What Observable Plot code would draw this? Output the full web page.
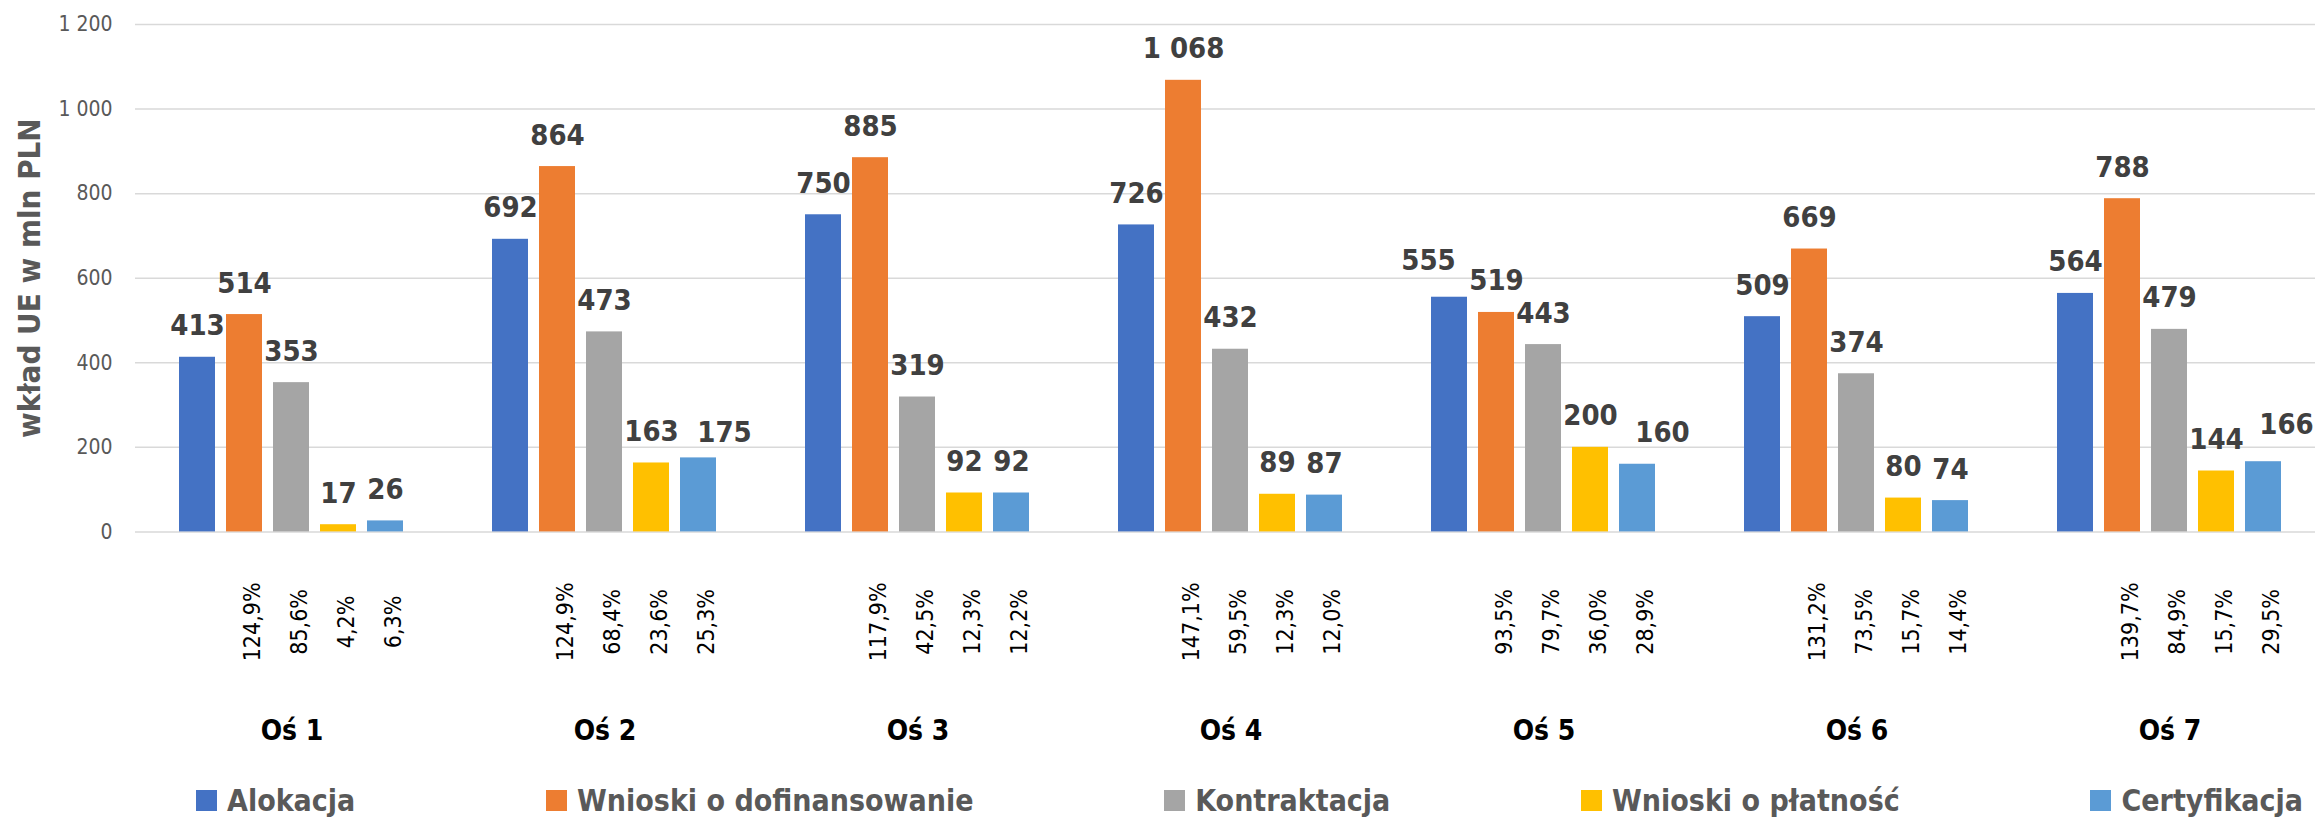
<!DOCTYPE html>
<html>
<head>
<meta charset="utf-8">
<script src="https://cdn.jsdelivr.net/npm/d3@7"></script>
<script src="https://cdn.jsdelivr.net/npm/@observablehq/plot@0.6"></script>
<style>
  html, body { margin: 0; padding: 0; background: #fff; }
  #chart { width: 2315px; height: 818px; overflow: hidden; position: relative; }
  .legend { display: flex; justify-content: space-between; align-items: center;
    margin-left: 196px; width: 2107px; height: 38px; margin-top: 6px;
    font-family: "DejaVu Sans Condensed", "DejaVu Sans", sans-serif; font-stretch: condensed;
    font-weight: bold; font-size: 30px; color: #595959; white-space: nowrap; }
  .legend .item { display: flex; align-items: center; }
  .legend .sw { width: 21px; height: 21px; margin-right: 10px; display: inline-block; }
</style>
</head>
<body>
<div id="chart"></div>
<script>
// ---- data ----
const groups = ["Oś 1", "Oś 2", "Oś 3", "Oś 4", "Oś 5", "Oś 6", "Oś 7"];
const series = ["Alokacja", "Wnioski o dofinansowanie", "Kontraktacja", "Wnioski o płatność", "Certyfikacja"];
const colors = ["#4472C4", "#ED7D31", "#A5A5A5", "#FFC000", "#5B9BD5"];
const alokacja = [413, 692, 750, 726, 555, 509, 564];
const wnioskiDof = [514, 864, 885, 1068, 519, 669, 788];
const kontraktacja = [353, 473, 319, 432, 443, 374, 479];
const wnioskiPlat = [17, 163, 92, 89, 200, 80, 144];
const certyfikacja = [26, 175, 92, 87, 160, 74, 166];
const pctWnioskiDof = ["124,9%", "124,9%", "117,9%", "147,1%", "93,5%", "131,2%", "139,7%"];
const pctKontraktacja = ["85,6%", "68,4%", "42,5%", "59,5%", "79,7%", "73,5%", "84,9%"];
const pctWnioskiPlat = ["4,2%", "23,6%", "12,3%", "12,3%", "36,0%", "15,7%", "15,7%"];
const pctCertyfikacja = ["6,3%", "25,3%", "12,2%", "12,0%", "28,9%", "14,4%", "29,5%"];
const yTicks = [0, 200, 400, 600, 800, 1000, 1200];
const yTitle = "wkład UE w mln PLN";

// ---- table ----
const valuesBySeries = [alokacja, wnioskiDof, kontraktacja, wnioskiPlat, certyfikacja];
const pctBySeries = [null, pctWnioskiDof, pctKontraktacja, pctWnioskiPlat, pctCertyfikacja];
const rows = [];
groups.forEach((g, gi) => series.forEach((s, si) => {
  rows.push({group: g, series: s, value: valuesBySeries[si][gi], pct: pctBySeries[si] ? pctBySeries[si][gi] : null});
}));
const pctRows = rows.filter(d => d.pct);

// label placement tweaks: in the original some value labels are moved aside to avoid collisions
const nudges = [
  {group: "Oś 5", series: "Alokacja", dx: -21, dy: -27},
  {group: "Oś 2", series: "Certyfikacja", dx: 26, dy: -16},
  {group: "Oś 5", series: "Certyfikacja", dx: 25, dy: -22},
  {group: "Oś 7", series: "Certyfikacja", dx: 23, dy: -28}
];
const isNudged = r => nudges.some(n => n.group === r.group && n.series === r.series);
const plainLabels = rows.filter(r => !isNudged(r));

const fmt = v => d3.format(",")(v).replace(/,/g, " ");
const condensed = "'DejaVu Sans Condensed', 'DejaVu Sans', sans-serif";
const valueLabel = {fx: "group", x: "series", y: "value", text: d => fmt(d.value),
  lineAnchor: "bottom", fill: "#404040", fontWeight: "bold", fontSize: 29};

const H = 775;
const plot = Plot.plot({
  width: 2315,
  height: H,
  marginLeft: 135,
  marginRight: -11,
  marginTop: 24,
  marginBottom: H - 531.4,
  style: {fontFamily: condensed, fontStretch: "condensed", background: "white", overflow: "visible"},
  fx: {domain: groups, padding: 0, axis: null},
  x: {domain: series, paddingInner: 0.229, paddingOuter: 0.875, axis: null},
  y: {domain: [0, 1200], axis: null},
  color: {domain: series, range: colors},
  marks: [
    Plot.ruleY(yTicks, {stroke: "#d9d9d9", strokeWidth: 1.5}),
    Plot.axisY({ticks: yTicks, tickFormat: fmt, tickSize: 0, tickPadding: 23, label: null,
      fill: "#595959", fontSize: 21}),
    Plot.barY(rows, {fx: "group", x: "series", y: "value", fill: "series"}),
    Plot.text(plainLabels, {...valueLabel, dy: -22}),
    ...nudges.map(n => Plot.text(rows.filter(r => r.group === n.group && r.series === n.series),
      {...valueLabel, dx: n.dx, dy: n.dy})),
    Plot.text(pctRows, {fx: "group", x: "series", y: () => 0, text: "pct", rotate: -90,
      dx: 8, dy: 90, fill: "#000", fontSize: 23, fontFamily: "'DejaVu Sans', sans-serif"}),
    Plot.text(groups, {fx: d => d, text: d => d, frameAnchor: "bottom", dy: 208,
      fill: "#000", fontWeight: "bold", fontSize: 28}),
    Plot.text([yTitle], {fx: () => groups[0], text: d => d, frameAnchor: "left", textAnchor: "middle",
      dx: -105, rotate: -90, fill: "#595959", fontWeight: "bold", fontSize: 31})
  ]
});
const chart = document.getElementById("chart");
chart.appendChild(plot);

const legend = document.createElement("div");
legend.className = "legend";
series.forEach((s, i) => {
  const item = document.createElement("div");
  item.className = "item";
  const sw = document.createElement("span");
  sw.className = "sw";
  sw.style.background = colors[i];
  const t = document.createElement("span");
  t.textContent = s;
  item.appendChild(sw);
  item.appendChild(t);
  legend.appendChild(item);
});
chart.appendChild(legend);
</script>
</body>
</html>
